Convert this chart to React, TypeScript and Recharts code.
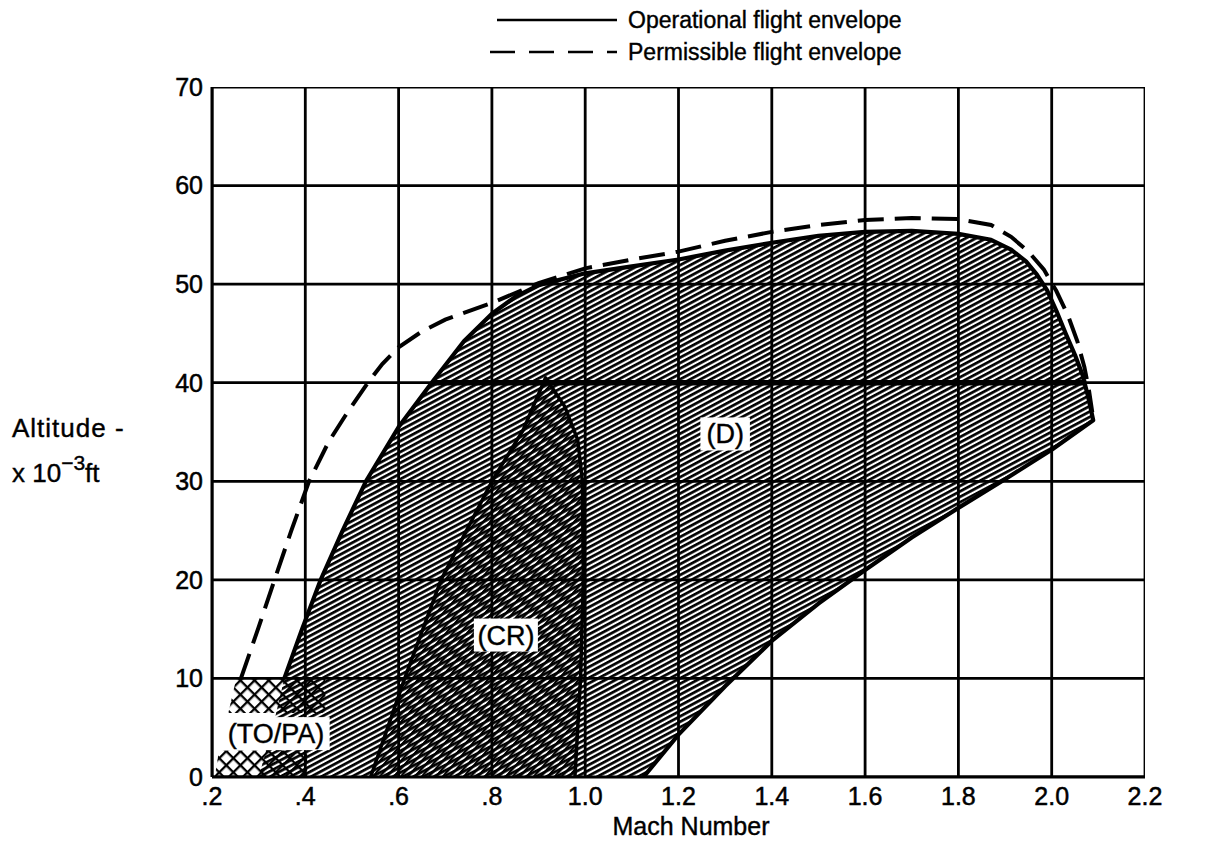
import React from 'react';
import { ScatterChart, Scatter, XAxis, YAxis, Label } from 'recharts';

const FONT = "'Liberation Sans', Arial, Helvetica, sans-serif";

const xTicks = [0.2, 0.4, 0.6, 0.8, 1.0, 1.2, 1.4, 1.6, 1.8, 2.0, 2.2];
const xTickLabels = ['.2', '.4', '.6', '.8', '1.0', '1.2', '1.4', '1.6', '1.8', '2.0', '2.2'];
const yTicks = [0, 10, 20, 30, 40, 50, 60, 70];

// Operational flight envelope: upper/left boundary (from Mach .355 @ 10k ft around to the corner)
const operationalUpper = [
  { x: 0.355, y: 10 }, { x: 0.393, y: 15 }, { x: 0.433, y: 20 }, { x: 0.48, y: 25 },
  { x: 0.53, y: 30 }, { x: 0.6, y: 35.5 }, { x: 0.671, y: 40 }, { x: 0.74, y: 44.2 },
  { x: 0.8, y: 47.0 }, { x: 0.85, y: 48.7 }, { x: 0.9, y: 49.9 }, { x: 1.0, y: 51.1 },
  { x: 1.1, y: 51.8 }, { x: 1.2, y: 52.5 }, { x: 1.3, y: 53.4 }, { x: 1.4, y: 54.2 },
  { x: 1.5, y: 54.9 }, { x: 1.6, y: 55.3 }, { x: 1.7, y: 55.4 }, { x: 1.8, y: 55.1 },
  { x: 1.87, y: 54.5 }, { x: 1.913, y: 53.5 }, { x: 1.945, y: 52.3 }, { x: 1.968, y: 51.0 },
  { x: 1.99, y: 49.4 }, { x: 2.01, y: 47.3 }, { x: 2.03, y: 45.0 }, { x: 2.05, y: 42.8 },
  { x: 2.066, y: 40.8 }, { x: 2.078, y: 38.6 }, { x: 2.089, y: 36.2 },
];
// Operational flight envelope: lower/right boundary (corner down to the Mach axis)
const operationalLower = [
  { x: 2.0, y: 33.2 }, { x: 1.9, y: 30.2 }, { x: 1.8, y: 27.3 }, { x: 1.7, y: 24.3 },
  { x: 1.6, y: 21 }, { x: 1.5, y: 17.6 }, { x: 1.4, y: 13.8 }, { x: 1.3, y: 9.2 },
  { x: 1.2, y: 4.3 }, { x: 1.125, y: 0 },
];
// Hatched (D) region continues below 10k ft into the TO/PA area
const operationalFoot = [{ x: 0.3, y: 0 }, { x: 0.33, y: 5 }];

// Permissible flight envelope (dashed)
const permissible = [
  { x: 0.262, y: 10 }, { x: 0.3, y: 15.2 }, { x: 0.334, y: 20 }, { x: 0.37, y: 25 },
  { x: 0.408, y: 30 }, { x: 0.45, y: 34 }, { x: 0.485, y: 36.6 }, { x: 0.534, y: 40 },
  { x: 0.565, y: 41.9 }, { x: 0.6, y: 43.6 }, { x: 0.65, y: 45.2 }, { x: 0.7, y: 46.4 },
  { x: 0.8, y: 48.1 }, { x: 0.9, y: 50.1 }, { x: 1.0, y: 51.6 }, { x: 1.1, y: 52.5 },
  { x: 1.2, y: 53.3 }, { x: 1.3, y: 54.4 }, { x: 1.4, y: 55.3 }, { x: 1.5, y: 56 },
  { x: 1.6, y: 56.5 }, { x: 1.7, y: 56.7 }, { x: 1.8, y: 56.6 }, { x: 1.87, y: 56 },
  { x: 1.913, y: 54.8 }, { x: 1.95, y: 53.3 }, { x: 1.983, y: 51.5 }, { x: 2.01, y: 49.3 },
  { x: 2.035, y: 46.8 }, { x: 2.055, y: 44.2 }, { x: 2.07, y: 41.6 }, { x: 2.08, y: 39.2 },
  { x: 2.087, y: 37 },
];

// Cruise (CR) region
const cruiseLeft = [
  { x: 0.54, y: 0 }, { x: 0.613, y: 10 }, { x: 0.691, y: 20 }, { x: 0.8, y: 30 },
  { x: 0.867, y: 35.2 }, { x: 0.915, y: 40.5 },
];
const cruiseRight = [
  { x: 0.956, y: 37.6 }, { x: 0.984, y: 34.2 }, { x: 0.994, y: 30 }, { x: 0.996, y: 20 },
  { x: 0.99, y: 10 }, { x: 0.978, y: 0 },
];

// Take-off / powered approach (TO/PA) blocks
const takeoffUpper = [
  { x: 0.235, y: 6.5 }, { x: 0.252, y: 10 }, { x: 0.443, y: 10 }, { x: 0.443, y: 6.5 },
];
const takeoffLower = [
  { x: 0.206, y: 0 }, { x: 0.215, y: 2.7 }, { x: 0.404, y: 2.7 }, { x: 0.404, y: 0 },
];

// Heavy 40,000 ft division line across the envelope
const divisionLine = [{ x: 0.671, y: 40 }, { x: 2.074, y: 40 }];

// Region labels
const regionNames = ['(D)', '(CR)', '(TO/PA)'];
const regionMach = [1.3, 0.83, 0.337];
const regionAlt = [34.8, 14.4, 4.4];

const regionLabels = regionNames.map((t, i) => ({ x: regionMach[i], y: regionAlt[i], text: t }));
const dFill = [...operationalFoot, ...operationalUpper, ...operationalLower];
const dOutline = [...operationalUpper, ...operationalLower];
const crPoly = [...cruiseLeft, ...cruiseRight];

const vGrid = xTicks.map((t) => [{ x: t, y: 0 }, { x: t, y: 70 }]);
const hGrid = yTicks.map((t) => [{ x: 0.2, y: t }, { x: 2.2, y: t }]);

const noDot = () => <g />;

const LabelShape = (props: any) => {
  const { cx, cy, payload } = props;
  const text: string = payload.text;
  const w = text.length * 14.5 + 6;
  const h = 33;
  return (
    <g>
      <rect x={cx - w / 2} y={cy - h / 2} width={w} height={h} fill="#fff" />
      <text x={cx} y={cy + 9.5} textAnchor="middle" fontSize={27} fontFamily={FONT} fill="#000"
        stroke="#000" strokeWidth={0.4}>
        {text}
      </text>
    </g>
  );
};

const MachLabel = () => (
  <text x={691} y={835} textAnchor="middle" fontSize={25} fontFamily={FONT} fill="#000"
    stroke="#000" strokeWidth={0.4}>
    Mach Number
  </text>
);

const tickStyle = { fontSize: 25, fill: '#000', fontFamily: FONT, stroke: '#000', strokeWidth: 0.5 };
const textStroke = { stroke: '#000', strokeWidth: 0.4 };

export default function App() {
  return (
    <div style={{ position: 'absolute', left: 0, top: 0, width: 1207, height: 842, background: '#fff' }}>
      <ScatterChart width={1207} height={842} margin={{ top: 87, right: 62, bottom: 5, left: 0 }}>
        <defs>
          <pattern id="hatchD" patternUnits="userSpaceOnUse" width="10" height="4.8" patternTransform="rotate(-28)">
            <rect x="0" y="0" width="10" height="4.8" fill="#fff" />
            <rect x="0" y="0" width="10" height="2.7" fill="#000" />
          </pattern>
          <pattern id="hatchCR" patternUnits="userSpaceOnUse" width="10" height="5.2" patternTransform="rotate(-48)">
            <rect x="0" y="0" width="10" height="2.2" fill="#000" />
          </pattern>
          <pattern id="crossTO" patternUnits="userSpaceOnUse" width="10" height="10" patternTransform="rotate(45)">
            <rect x="0" y="0" width="10" height="2.3" fill="#000" />
            <rect x="0" y="0" width="2.3" height="10" fill="#000" />
          </pattern>
        </defs>
        <XAxis
          type="number"
          dataKey="x"
          domain={[0.2, 2.2]}
          ticks={xTicks}
          interval={0}
          allowDataOverflow
          height={60}
          tickSize={6}
          tickMargin={4}
          tickLine={false}
          axisLine={{ stroke: '#000', strokeWidth: 3 }}
          tickFormatter={(v: number, i: number) => xTickLabels[i]}
          tick={tickStyle}
        >
          <Label content={MachLabel} />
        </XAxis>
        <YAxis
          type="number"
          dataKey="y"
          domain={[0, 70]}
          ticks={yTicks}
          interval={0}
          allowDataOverflow
          width={212}
          tickSize={6}
          tickMargin={3}
          tickLine={false}
          axisLine={{ stroke: '#000', strokeWidth: 3 }}
          tick={tickStyle}
        />

        <Scatter data={dFill} fill="none" shape={noDot} isAnimationActive={false}
          line={{ fill: 'url(#hatchD)', stroke: 'none' }} />
        <Scatter data={crPoly} fill="none" shape={noDot} isAnimationActive={false}
          line={{ fill: 'url(#hatchCR)', stroke: 'none' }} />
        <Scatter data={takeoffUpper} fill="none" shape={noDot} isAnimationActive={false}
          line={{ fill: 'url(#crossTO)', stroke: 'none' }} />
        <Scatter data={takeoffLower} fill="none" shape={noDot} isAnimationActive={false}
          line={{ fill: 'url(#crossTO)', stroke: 'none' }} />

        {vGrid.map((d, i) => (
          <Scatter key={'v' + i} data={d} fill="none" shape={noDot} isAnimationActive={false}
            line={{ stroke: '#000', strokeWidth: 2.8, fill: 'none' }} />
        ))}
        {hGrid.map((d, i) => (
          <Scatter key={'h' + i} data={d} fill="none" shape={noDot} isAnimationActive={false}
            line={{ stroke: '#000', strokeWidth: 2.8, fill: 'none' }} />
        ))}

        <Scatter data={divisionLine} fill="none" shape={noDot} isAnimationActive={false}
          line={{ stroke: '#000', strokeWidth: 5.5, fill: 'none' }} />
        <Scatter data={crPoly} fill="none" shape={noDot} isAnimationActive={false}
          line={{ stroke: '#000', strokeWidth: 3.5, fill: 'none', strokeLinejoin: 'round' }} />
        <Scatter data={dOutline} fill="none" shape={noDot} isAnimationActive={false}
          line={{ stroke: '#000', strokeWidth: 4.2, fill: 'none', strokeLinejoin: 'round' }} />
        <Scatter data={permissible} fill="none" shape={noDot} isAnimationActive={false}
          line={{ stroke: '#000', strokeWidth: 4, fill: 'none', strokeDasharray: '26 11' }} />

        <Scatter data={regionLabels} shape={LabelShape} isAnimationActive={false} />
      </ScatterChart>

      <svg width={1207} height={842} style={{ position: 'absolute', left: 0, top: 0, pointerEvents: 'none' }}>
        <line x1={497} y1={20} x2={617} y2={20} stroke="#000" strokeWidth={2.5} />
        <text x={628} y={28} fontSize={23} fontFamily={FONT} fill="#000" {...textStroke}>Operational flight envelope</text>
        <line x1={487} y1={52} x2={617} y2={52} stroke="#000" strokeWidth={2.5} strokeDasharray="25 14" strokeDashoffset={-3} />
        <text x={628} y={60} fontSize={23} fontFamily={FONT} fill="#000" {...textStroke}>Permissible flight envelope</text>
        <text x={12} y={437} fontSize={26} fontFamily={FONT} fill="#000" letterSpacing={1} {...textStroke}>Altitude -</text>
        <text x={12} y={482} fontSize={26} fontFamily={FONT} fill="#000" {...textStroke}>
          x 10<tspan dy={-12} fontSize={21}>−3</tspan><tspan dy={12} fontSize={26}>ft</tspan>
        </text>
      </svg>
    </div>
  );
}
